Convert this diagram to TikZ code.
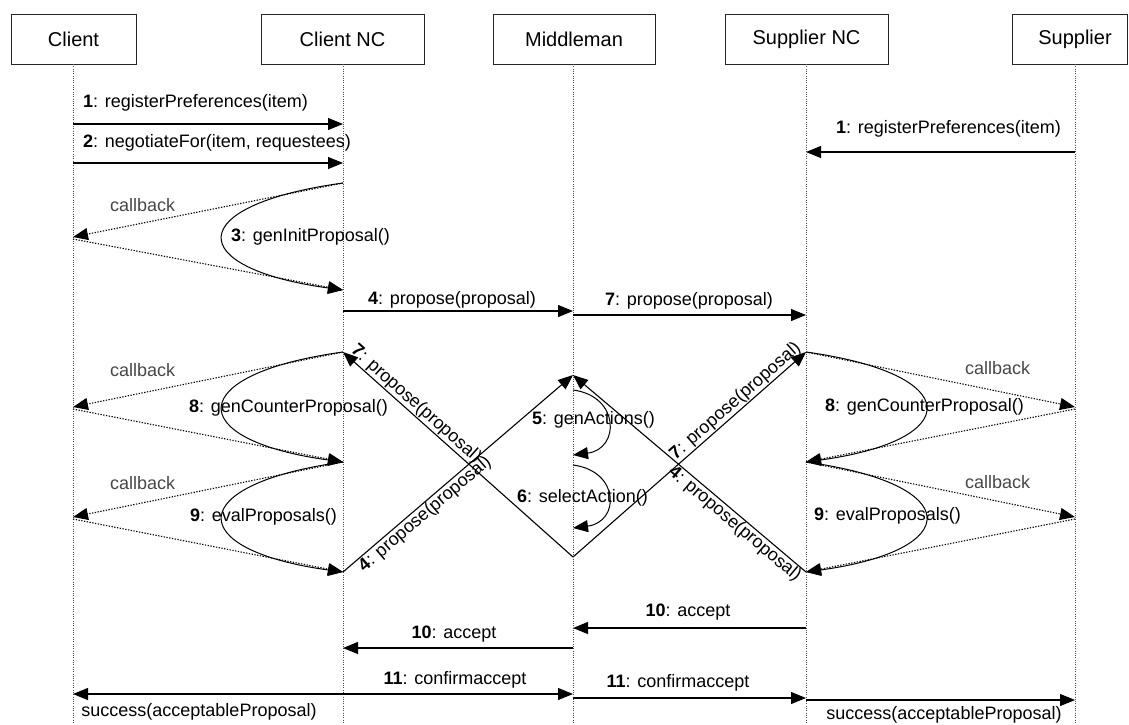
\documentclass[tikz,border=0pt]{standalone}
\usepackage{fontspec}
\setmainfont{Liberation Sans}
\usetikzlibrary{arrows.meta}
\begin{document}
\begin{tikzpicture}[x=1pt,y=-1pt,
  head/.style={draw=black!85, line width=0.9pt, minimum height=50pt, inner sep=0pt,
    font=\fontsize{20}{24}\selectfont, anchor=north},
  life/.style={draw=black!70, line width=0.7pt, dash pattern=on 0.9pt off 1.4pt},
  tip/.style={-{Triangle[length=15pt,width=12pt]}},
  msg/.style={draw=black, line width=1.1pt, tip},
  call/.style={draw=black, line width=1pt, tip},
  cb/.style={draw=black, line width=1.1pt, dash pattern=on 1.3pt off 1.5pt, tip},
  txt/.style={font=\fontsize{18}{21}\selectfont, inner sep=0pt},
  cbtxt/.style={txt, text=black!72},
]
\useasboundingbox (0,0) rectangle (1129,724);

% object boxes
\node[head, minimum width=125pt] (C)  at (73.5,14)  {Client};
\node[head, minimum width=163pt] (CN) at (342.5,14) {Client NC};
\node[head, minimum width=162pt] (M)  at (574,14)   {Middleman};
\node[head, minimum width=163pt] (SN) at (806.5,14) {Supplier NC};
\node[head, minimum width=115pt] (S)  at (1069.5,14) {\hspace*{11pt}Supplier};

% lifelines
\coordinate (lc)  at (73,64);
\coordinate (lcn) at (343,64);
\coordinate (lm)  at (573,64);
\coordinate (lsn) at (806,64);
\coordinate (ls)  at (1075,64);
\foreach \l in {lc,lcn,lm,lsn,ls}
  \draw[life] (\l) -- (\l |- 0,724);

% registration and negotiation request
\draw[msg] (lc |- 0,124) -- (lcn |- 0,124);
\node[txt, anchor=west] (t1a) at (83,103) {\textbf{1}: registerPreferences(item)};
\draw[msg] (ls |- 0,152) -- (lsn |- 0,152);
\node[txt, anchor=west] (t1b) at (836,129) {\textbf{1}: registerPreferences(item)};
\draw[msg] (lc |- 0,163) -- (lcn |- 0,163);
\node[txt, anchor=west] (t2) at (83,143) {\textbf{2}: negotiateFor(item, requestees)};

% initial proposal
\draw[cb] (lcn |- 0,183) -- (lc |- 0,237);
\draw[cb] (lc |- 0,239) -- (lcn |- 0,290);
\node[cbtxt, anchor=west] (cb1) at (110,205) {callback};
\draw[call] (lcn |- 0,183) .. controls (183,205) and (183,268) .. (lcn |- 0,290);
\node[txt, anchor=west] (t3) at (231,237) {\textbf{3}: genInitProposal()};

\draw[msg] (lcn |- 0,311) -- (lm |- 0,311);
\node[txt] (t4) at (452,300) {\textbf{4}: propose(proposal)};
\draw[msg] (lm |- 0,315) -- (lsn |- 0,315);
\node[txt] (t7) at (689,301) {\textbf{7}: propose(proposal)};

% crossing proposals
\coordinate (cnT) at (lcn |- 0,352);
\coordinate (cnB) at (lcn |- 0,572);
\coordinate (snT) at (lsn |- 0,352);
\coordinate (snB) at (lsn |- 0,572);
\coordinate (apex) at (lm |- 0,375);
\coordinate (vtx) at (lm |- 0,557);
\draw[msg] (vtx) -- (cnT);
\draw[msg] (vtx) -- (snT);
\draw[msg] (cnB) -- (apex);
\draw[msg] (snB) -- (apex);
\path (cnT) -- node[txt, sloped, above=1pt, pos=0.29] (d7l) {\textbf{7}: propose(proposal)} (vtx);
\path (cnB) -- node[txt, sloped, below=1pt, pos=0.33] (d4l) {\textbf{4}: propose(proposal)} (apex);
\path (vtx) -- node[txt, sloped, above=1pt, pos=0.725] (d7r) {\textbf{7}: propose(proposal)} (snT);
\path (apex) -- node[txt, sloped, below=1pt, pos=0.72] (d4r) {\textbf{4}: propose(proposal)} (snB);

% middleman internal steps
\draw[call] (lm |- 0,390) .. controls (620,396) and (620,449) .. (lm |- 0,455);
\node[txt, anchor=west] (t5) at (532,420) {\textbf{5}: genActions()};
\draw[call] (lm |- 0,465) .. controls (620,471) and (620,522) .. (lm |- 0,528);
\node[txt, anchor=west] (t6) at (517,498) {\textbf{6}: selectAction()};

% client side counter proposal and evaluation
\draw[cb] (cnT) -- (lc |- 0,407);
\draw[cb] (lc |- 0,409) -- (lcn |- 0,462);
\node[cbtxt, anchor=west] (cb2) at (110,370) {callback};
\draw[call] (cnT) .. controls (183,374) and (183,440) .. (lcn |- 0,462);
\node[txt, anchor=west] (t8a) at (189,408) {\textbf{8}: genCounterProposal()};
\draw[cb] (lcn |- 0,462) -- (lc |- 0,517);
\draw[cb] (lc |- 0,519) -- (cnB);
\node[cbtxt, anchor=west] (cb3) at (110,483) {callback};
\draw[call] (lcn |- 0,462) .. controls (183,484) and (183,550) .. (cnB);
\node[txt, anchor=west] (t9a) at (190,517) {\textbf{9}: evalProposals()};

% supplier side counter proposal and evaluation
\draw[cb] (snT) -- (ls |- 0,407);
\draw[cb] (ls |- 0,409) -- (lsn |- 0,462);
\node[cbtxt, anchor=west] (cb4) at (965,368) {callback};
\draw[call] (snT) .. controls (965,374) and (965,440) .. (lsn |- 0,462);
\node[txt, anchor=west] (t8b) at (825,407) {\textbf{8}: genCounterProposal()};
\draw[cb] (lsn |- 0,462) -- (ls |- 0,517);
\draw[cb] (ls |- 0,519) -- (snB);
\node[cbtxt, anchor=west] (cb5) at (965,482) {callback};
\draw[call] (lsn |- 0,462) .. controls (965,484) and (965,550) .. (snB);
\node[txt, anchor=west] (t9b) at (814,516) {\textbf{9}: evalProposals()};

% acceptance
\draw[msg] (lsn |- 0,628) -- (lm |- 0,628);
\node[txt] (t10a) at (688,612) {\textbf{10}: accept};
\draw[msg] (lm |- 0,648) -- (lcn |- 0,648);
\node[txt] (t10b) at (454,634) {\textbf{10}: accept};
\draw[msg] (lcn |- 0,694) -- (lm |- 0,694);
\node[txt] (t11a) at (455,680) {\textbf{11}: confirmaccept};
\draw[msg] (lcn |- 0,694) -- (lc |- 0,694);
\node[txt] (s1) at (199,712) {success(acceptableProposal)};
\draw[msg] (lm |- 0,698) -- (lsn |- 0,698);
\node[txt] (t11b) at (678,683) {\textbf{11}: confirmaccept};
\draw[msg] (lsn |- 0,700) -- (ls |- 0,700);
\node[txt] (s2) at (944,715) {success(acceptableProposal)};
\end{tikzpicture}
\end{document}
